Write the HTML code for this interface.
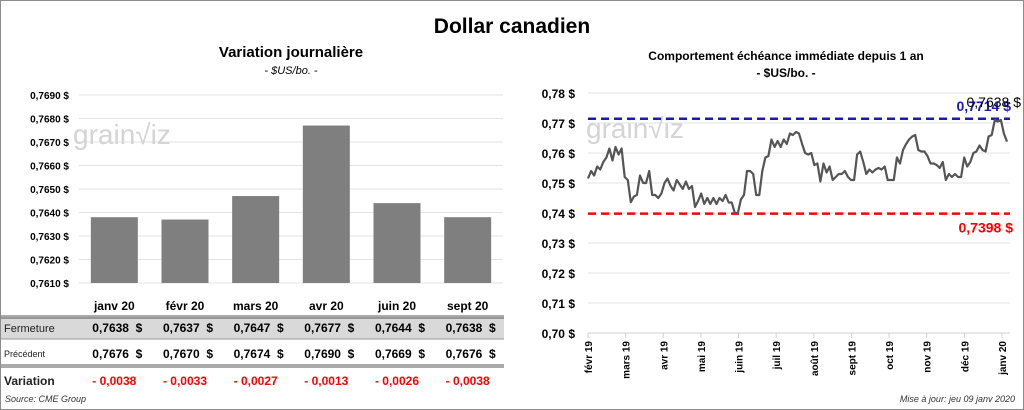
<!DOCTYPE html>
<html><head><meta charset="utf-8"><style>
body{margin:0;background:#fff;font-family:"Liberation Sans",sans-serif;}
#wrap{position:relative;width:1022px;height:408px;border:1px solid #8c8c8c;overflow:hidden;}
.t{position:absolute;white-space:nowrap;}
svg text{font-family:"Liberation Sans",sans-serif;white-space:pre;}
</style></head><body>
<div id="wrap">
<div class="t" style="left:0;width:1022px;text-align:center;top:14px;font-size:21px;font-weight:bold;">Dollar canadien</div>
<div class="t" style="left:80px;width:420px;text-align:center;top:43px;font-size:15px;font-weight:bold;">Variation  journalière</div>
<div class="t" style="left:80px;width:420px;text-align:center;top:64px;font-size:11px;font-style:italic;">- $US/bo. -</div>
<div class="t" style="left:560px;width:450px;text-align:center;top:48px;font-size:12px;font-weight:bold;">Comportement échéance immédiate depuis 1 an</div>
<div class="t" style="left:560px;width:450px;text-align:center;top:65px;font-size:12px;font-weight:bold;">- $US/bo. -</div>
<svg width="1022" height="408" style="position:absolute;left:0;top:0" id="svg"></svg>
<div class="t" style="left:4px;top:393px;font-size:9px;font-style:italic;color:#333;">Source: CME Group</div>
<div class="t" style="right:8px;top:393px;font-size:9px;font-style:italic;color:#333;">Mise à jour: jeu 09 janv 2020</div>
</div>
<script>
const barCats=["janv 20","févr 20","mars 20","avr 20","juin 20","sept 20"];
const barVals=[0.7638,0.7637,0.7647,0.7677,0.7644,0.7638];
const prevVals=[0.7676,0.7670,0.7674,0.7690,0.7669,0.7676];
const varLabels=["- 0,0038","- 0,0033","- 0,0027","- 0,0013","- 0,0026","- 0,0038"];
const barTicks=[0.7610,0.7620,0.7630,0.7640,0.7650,0.7660,0.7670,0.7680,0.7690];
const lineTicks=[0.70,0.71,0.72,0.73,0.74,0.75,0.76,0.77,0.78];
const monthLabels=["févr 19","mars 19","avr 19","mai 19","juin 19","juil 19","août 19","sept 19","oct 19","nov 19","déc 19","janv 20"];
const lineVals=[0.7515,0.754,0.7525,0.7555,0.7545,0.757,0.7585,0.7615,0.7575,0.762,0.7595,0.7615,0.752,0.751,0.7436,0.7455,0.746,0.7525,0.750,0.750,0.754,0.746,0.746,0.745,0.7465,0.750,0.7515,0.749,0.7475,0.751,0.7495,0.748,0.7505,0.748,0.749,0.742,0.744,0.7465,0.743,0.745,0.743,0.745,0.743,0.745,0.744,0.746,0.7435,0.7435,0.740,0.740,0.7445,0.746,0.754,0.754,0.753,0.746,0.746,0.754,0.7585,0.759,0.7645,0.762,0.764,0.762,0.7645,0.763,0.7665,0.766,0.767,0.7665,0.763,0.760,0.7595,0.760,0.756,0.7565,0.7505,0.7565,0.7535,0.7555,0.751,0.752,0.753,0.753,0.754,0.752,0.751,0.751,0.7595,0.7605,0.757,0.753,0.7545,0.7535,0.7545,0.755,0.7545,0.7555,0.751,0.751,0.751,0.7585,0.7565,0.761,0.763,0.7645,0.7655,0.766,0.761,0.7605,0.7605,0.759,0.7565,0.7565,0.756,0.755,0.757,0.751,0.753,0.752,0.753,0.752,0.752,0.7585,0.7555,0.757,0.760,0.7605,0.7625,0.761,0.7605,0.7655,0.766,0.771,0.7705,0.771,0.7665,0.7638];
const highVal=0.7714, lowVal=0.7398, lastVal=0.7638;
const NS="http://www.w3.org/2000/svg";
const svg=document.getElementById('svg');
function mk(tag,attrs,txt){const e=document.createElementNS(NS,tag);for(const k in attrs)e.setAttribute(k,attrs[k]);if(txt!==undefined)e.textContent=txt;svg.appendChild(e);return e;}
function fmt(v,d){return v.toFixed(d).replace('.',',');}
const bx0=78,bx1=502,by=v=>282-(v-0.7610)/0.0080*188;
for(const t of barTicks){
 const g=mk('line',{x1:bx0,x2:bx1,y1:by(t),y2:by(t),stroke:'#e3e3e3','stroke-width':1});
 
 
 const l=mk('text',{x:68,y:by(t)+4,'text-anchor':'end','font-size':10,'font-weight':'bold'},fmt(t,4)+' $');
 
 
}
const wm1=mk('text',{x:72,y:143,'font-size':28,fill:'#d4d4d4'},'grain√iz');


const cw=(bx1-bx0)/barCats.length;
barCats.forEach((c,i)=>{
 const cx=bx0+cw*(i+0.5);
 const r=mk('rect',{x:cx-23.5,y:by(barVals[i]),width:47,height:282-by(barVals[i]),fill:'#7f7f7f'});
 
 
 const h=mk('text',{x:cx,y:309,'text-anchor':'middle','font-size':12,'font-weight':'bold'},c);
 
 
});
const tb=mk('rect',{x:0,y:316,width:503,height:22,fill:'#d9d9d9'});


[[315,'#555'],[317,'#555'],[338,'#999'],[364,'#555'],[366,'#555']].forEach(([y,c])=>{
 const l=mk('line',{x1:0,x2:503,y1:y,y2:y,stroke:c,'stroke-width':1});
 
 
});
const rl=[['Fermeture',331,11,'normal'],['Précédent',356,9,'normal'],['Variation',384,12,'bold']];
rl.forEach(([t,y,s,w])=>{const e=mk('text',{x:3,y:y,'font-size':s,'font-weight':w,fill:'#222'},t);
 
 });
barCats.forEach((c,i)=>{
 const cx=bx0+cw*(i+0.5);
 const a=mk('text',{x:cx+28,y:331,'text-anchor':'end','font-size':12,'font-weight':'bold'},fmt(barVals[i],4)+'  $');
 
 
 const b=mk('text',{x:cx+28,y:357,'text-anchor':'end','font-size':12,'font-weight':'bold'},fmt(prevVals[i],4)+'  $');
 
 
 const d=mk('text',{x:cx,y:384,'text-anchor':'middle','font-size':12,'font-weight':'bold',fill:'#f00'},varLabels[i]);
 
 
});
const lx0=587,lx1=1009,lxe=1001,ly=v=>332-(v-0.70)/0.08*240;
for(const t of lineTicks){
 const g=mk('line',{x1:lx0,x2:lx1,y1:ly(t),y2:ly(t),stroke:t===0.70?'#d0d0d0':'#e3e3e3','stroke-width':1});
 
 
 const l=mk('text',{x:574,y:ly(t)+5,'text-anchor':'end','font-size':12,'font-weight':'bold'},fmt(t,2)+' $');
 
 
}
const wm2=mk('text',{x:585,y:137,'font-size':28,fill:'#d4d4d4'},'grain√iz');


const mstep=(lxe-lx0)/(monthLabels.length-1);
monthLabels.forEach((m,i)=>{
 const x=lx0+mstep*i;
 const tk=mk('line',{x1:x,x2:x,y1:332,y2:337,stroke:'#d0d0d0'});
 
 
 const t=mk('text',{x:x+4,y:340,'text-anchor':'end','font-size':10,'font-weight':'bold',transform:`rotate(-90 ${x+4} 340)`},m);
 
 
});
const hl=mk('line',{x1:lx0,x2:lx1,y1:ly(highVal),y2:ly(highVal),stroke:'#1a1ab8','stroke-width':2.5,'stroke-dasharray':'8,5'});


const lo=mk('line',{x1:lx0,x2:lx1,y1:ly(lowVal),y2:ly(lowVal),stroke:'#f00','stroke-width':2.5,'stroke-dasharray':'8,5'});


const n=lineVals.length;
const pts=lineVals.map((v,i)=>(lx0+(lxe+5-lx0)*i/(n-1)).toFixed(1)+','+ly(v).toFixed(1)).join(' ');
const pl=mk('polyline',{points:pts,fill:'none',stroke:'#555','stroke-width':2.2,'stroke-linejoin':'round'});


const ht=mk('text',{x:1010,y:ly(highVal)-8,'text-anchor':'end','font-size':14,'font-weight':'bold',fill:'#1a1ab8'},fmt(highVal,4)+' $');


const lt=mk('text',{x:1020,y:ly(highVal)-12,'text-anchor':'end','font-size':14,fill:'#000'},fmt(lastVal,4)+' $');


const lw=mk('text',{x:1012,y:ly(lowVal)+19,'text-anchor':'end','font-size':14,'font-weight':'bold',fill:'#f00'},fmt(lowVal,4)+' $');


</script>
</body></html>
